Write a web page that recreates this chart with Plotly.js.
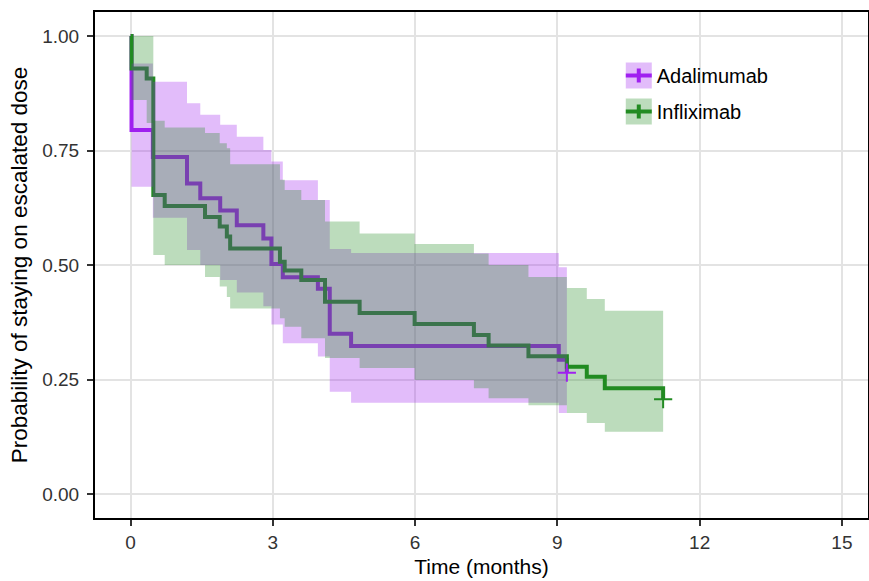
<!DOCTYPE html>
<html>
<head>
<meta charset="utf-8">
<script src="https://cdn.plot.ly/plotly-3.0.1.min.js"></script>
<style>
html,body{margin:0;padding:0;background:#fff;}
#chart{width:869px;height:581px;}
</style>
</head>
<body>
<div id="chart"></div>
<script>
// ---- Data ----
const seriesNames = ["Adalimumab", "Infliximab"];

const adaTime  = [0, 0.02, 0.47, 1.19, 1.47, 1.89, 2.24, 2.80, 2.97, 3.21, 3.95, 4.20, 4.65, 9.03, 9.20];
const adaSurv  = [1.0, 0.795, 0.736, 0.678, 0.646, 0.619, 0.587, 0.558, 0.502, 0.473, 0.448, 0.350, 0.323, 0.293, 0.265];
const adaUpper = [1.0, 0.94, 0.90, 0.853, 0.828, 0.806, 0.78, 0.751, 0.726, 0.685, 0.642, 0.535, 0.526, 0.495, 0.47];
const adaLower = [1.0, 0.671, 0.603, 0.533, 0.50, 0.467, 0.44, 0.41, 0.37, 0.329, 0.30, 0.223, 0.199, 0.177, 0.15];
const adaCensorTime = [9.20];
const adaCensorSurv = [0.265];

const infTime  = [0, 0.02, 0.34, 0.48, 0.72, 1.57, 1.88, 2.03, 2.10, 3.15, 3.25, 3.60, 4.10, 4.83, 5.99, 7.24, 7.55, 8.39, 9.20, 9.62, 10.0, 11.23];
const infSurv  = [1.0, 0.929, 0.907, 0.653, 0.629, 0.605, 0.584, 0.562, 0.536, 0.507, 0.488, 0.467, 0.420, 0.395, 0.371, 0.347, 0.324, 0.301, 0.278, 0.256, 0.231, 0.207];
const infUpper = [1.0, 1.0, 1.0, 0.815, 0.80, 0.788, 0.766, 0.755, 0.72, 0.686, 0.664, 0.642, 0.595, 0.569, 0.546, 0.525, 0.50, 0.474, 0.45, 0.426, 0.40, 0.40];
const infLower = [1.0, 0.86, 0.81, 0.522, 0.50, 0.474, 0.453, 0.43, 0.405, 0.384, 0.365, 0.340, 0.297, 0.275, 0.249, 0.231, 0.209, 0.194, 0.177, 0.155, 0.136, 0.136];
const infCensorTime = [11.23];
const infCensorSurv = [0.207];

const xTicks = [0, 3, 6, 9, 12, 15];
const yTicks = [0, 0.25, 0.5, 0.75, 1.0];
const yTickText = ["0.00", "0.25", "0.50", "0.75", "1.00"];

// ---- Styles ----
const lineColors = {Adalimumab: "#A020F0", Infliximab: "#228B22"};
const bandColors = {Adalimumab: "rgba(160,32,240,0.3)", Infliximab: "rgba(34,139,34,0.3)"};

// Build a step-shaped ribbon polygon from the band arrays
function ribbon(t, up, lo) {
  const xs = [], ys = [];
  const n = t.length;
  for (let i = 0; i < n; i++) {
    const tNext = i < n - 1 ? t[i + 1] : t[i];
    xs.push(t[i], tNext); ys.push(up[i], up[i]);
  }
  for (let i = n - 1; i >= 0; i--) {
    const tNext = i < n - 1 ? t[i + 1] : t[i];
    xs.push(tNext, t[i]); ys.push(lo[i], lo[i]);
  }
  return {xs, ys};
}

const series = [
  {name: "Adalimumab", t: adaTime, s: adaSurv, up: adaUpper, lo: adaLower, ct: adaCensorTime, cs: adaCensorSurv},
  {name: "Infliximab", t: infTime, s: infSurv, up: infUpper, lo: infLower, ct: infCensorTime, cs: infCensorSurv}
];

const traces = [];
// Lines (drawn under the ribbons)
series.forEach(d => {
  traces.push({
    x: d.t, y: d.s, type: "scatter", mode: "lines",
    line: {color: lineColors[d.name], width: 4, shape: "hv"},
    showlegend: false, hoverinfo: "skip"
  });
});
// Ribbons (purple first, green on top)
series.forEach(d => {
  const r = ribbon(d.t, d.up, d.lo);
  traces.push({
    x: r.xs, y: r.ys, type: "scatter", mode: "lines", fill: "toself",
    fillcolor: bandColors[d.name], line: {width: 0, color: "rgba(0,0,0,0)"},
    showlegend: false, hoverinfo: "skip"
  });
});
// Censor marks
series.forEach(d => {
  traces.push({
    x: d.ct, y: d.cs, type: "scatter", mode: "markers",
    marker: {symbol: "cross-thin", size: 13, line: {color: lineColors[d.name], width: 2}, color: lineColors[d.name]},
    showlegend: false, hoverinfo: "skip"
  });
});
// Legend entries
series.forEach((d, i) => {
  traces.push({
    x: [null], y: [null], type: "scatter", mode: "lines", name: d.name,
    fill: "toself", fillcolor: bandColors[d.name],
    line: {color: lineColors[d.name], width: 4},
    legendgroup: d.name, showlegend: true
  });
});

const layout = {
  width: 869, height: 581,
  margin: {l: 95, r: 1, t: 12, b: 63},
  paper_bgcolor: "#ffffff", plot_bgcolor: "#ffffff",
  font: {family: "Liberation Sans, Arial, sans-serif", size: 20, color: "#000"},
  showlegend: true,
  legend: {
    x: 0.675, y: 0.913, xanchor: "left", yanchor: "top",
    bgcolor: "rgba(0,0,0,0)", font: {size: 20, color: "#000"},
    traceorder: "grouped", tracegroupgap: 7, itemwidth: 30
  },
  xaxis: {
    range: [-0.75, 15.55], tickvals: xTicks, ticktext: xTicks.map(String),
    showgrid: true, gridcolor: "#E3E3E3", gridwidth: 2, zeroline: false,
    showline: true, linecolor: "#000", linewidth: 2, mirror: true,
    ticks: "outside", ticklen: 6, tickwidth: 2, tickcolor: "#333",
    tickfont: {size: 19, color: "#333"},
    title: {text: "Time (months)", font: {size: 21, color: "#000"}, standoff: 8}
  },
  yaxis: {
    range: [-0.0524, 1.0524], tickvals: yTicks, ticktext: yTickText,
    showgrid: true, gridcolor: "#E3E3E3", gridwidth: 2, zeroline: false,
    showline: true, linecolor: "#000", linewidth: 2, mirror: true,
    ticks: "outside", ticklen: 6, tickwidth: 2, tickcolor: "#333",
    ticklabelstandoff: 4,
    tickfont: {size: 19, color: "#333"},
    title: {text: "Probability of staying on escalated dose", font: {size: 22.5, color: "#000"}, standoff: 8}
  }
};

Plotly.newPlot("chart", traces, layout, {displayModeBar: false, staticPlot: true}).then(gd => {
  // Square legend key with a "+" glyph, as in the reference
  gd.querySelectorAll(".legend .traces").forEach(tr => {
    const f = tr.querySelector(".legendfill path");
    if (f) f.setAttribute("d", "M9,-13h26v26h-26z");
    const l = tr.querySelector(".legendlines path");
    if (l) l.setAttribute("d", "M9,0h26M22,-7v14");
  });
});
</script>
</body>
</html>
